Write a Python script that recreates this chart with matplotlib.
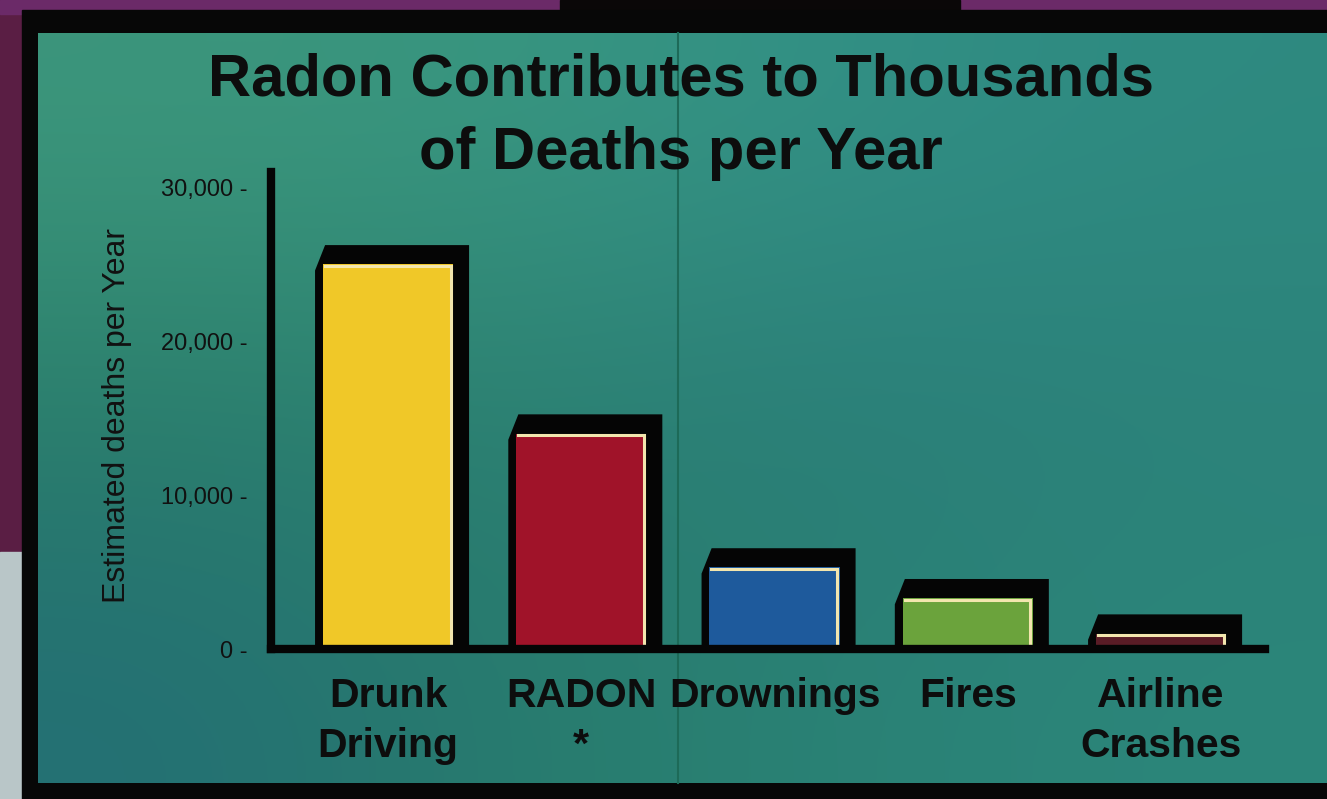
import numpy as np
import matplotlib
matplotlib.use('Agg')
import matplotlib.pyplot as plt
from matplotlib.patches import Rectangle, Polygon

plt.rcParams['font.family'] = ['Liberation Sans', 'DejaVu Sans']

# --- data ---
categories = ['Drunk\nDriving', 'RADON\n*', 'Drownings', 'Fires', 'Airline\nCrashes']
deaths = [25000, 14000, 5300, 3300, 1000]
bar_colors = ['#f0c828', '#a01329', '#1e5a9c', '#6ba33c', '#5a1c26']
ytick_vals = [0, 10000, 20000, 30000]
ytick_labels = ['0 -', '10,000 -', '20,000 -', '30,000 -']

W, H = 1327, 799
fig = plt.figure(figsize=(W / 100, H / 100), dpi=100)
fig.patch.set_facecolor('#5a1e44')

# background layer in pixel coordinates (photo of a printed panel)
bg = fig.add_axes([0, 0, 1, 1])
bg.set_xlim(0, W)
bg.set_ylim(H, 0)
bg.axis('off')
bg.add_patch(Rectangle((0, 0), W, 14, color='#6b2a68'))
bg.add_patch(Rectangle((560, 0), 400, 14, color='#0a0708'))
bg.add_patch(Rectangle((0, 552), 22, H - 552, color='#b9c6c8'))
bg.add_patch(Rectangle((22, 10), W - 22, H - 10, color='#070707'))

# soft teal colour variation of the paper
teal = np.array([
    [[60, 150, 124], [56, 150, 128], [50, 144, 134], [46, 138, 128]],
    [[42, 126, 106], [44, 128, 114], [42, 124, 120], [44, 130, 122]],
    [[36, 112, 116], [40, 124, 108], [42, 130, 118], [44, 134, 122]],
]) / 255.0
bg.imshow(teal, extent=(38, W, 783, 33), interpolation='bicubic', aspect='auto', zorder=1)
bg.plot([678, 678], [33, 783], color='#1d6a58', lw=1.5, zorder=2)

# main chart
ax = fig.add_axes([271 / W, 150 / H, 994 / W, 477 / H])
ax.patch.set_alpha(0)
x = np.arange(len(categories))
face_w = 0.673
dx_l, dx_r, dy_top, chamfer = 0.041, 0.083, 1250, 0.052

for xi, v in zip(x, deaths):
    L, R = xi - face_w / 2, xi + face_w / 2
    shadow = Polygon([(L - dx_l, 0), (L - dx_l, v - 400), (L - dx_l + chamfer, v + dy_top),
                      (R + dx_r, v + dy_top), (R + dx_r, 0)],
                     closed=True, facecolor='#050505', edgecolor='none', zorder=2)
    ax.add_patch(shadow)
ax.bar(x, deaths, width=face_w, color=bar_colors, zorder=3)
for xi, v in zip(x, deaths):
    L, R = xi - face_w / 2, xi + face_w / 2
    ax.plot([L + 0.01, R - 0.012, R - 0.012], [v - 100, v - 100, 0],
            color='#f3e6ae', lw=2.2, solid_joinstyle='miter', zorder=4)

ax.set_xlim(-0.6054, 4.538)
ax.set_ylim(0, 31000)
for s in ['top', 'right']:
    ax.spines[s].set_visible(False)
for s in ['left', 'bottom']:
    ax.spines[s].set_linewidth(6)
    ax.spines[s].set_color('#050505')
    ax.spines[s].set_zorder(5)

ax.set_yticks(ytick_vals)
ax.set_yticklabels(ytick_labels, fontsize=17, color='#111111')
ax.set_xticks(x)
ax.set_xticklabels(categories, fontsize=29.5, fontweight='bold', color='#0d0d0d',
                   linespacing=1.4)
ax.tick_params(axis='both', length=0)
ax.tick_params(axis='y', pad=17)
ax.tick_params(axis='x', pad=20)

ax.set_ylabel('Estimated deaths per Year', fontsize=23, color='#111111')
ax.yaxis.set_label_coords(-0.14, 0.49)

fig.text(681 / W, 1 - 52 / H, 'Radon Contributes to Thousands\nof Deaths per Year',
         ha='center', va='top', fontsize=43, fontweight='bold', color='#0d0d0d',
         linespacing=1.44)

plt.savefig('out.png', dpi=100, facecolor=fig.get_facecolor())
